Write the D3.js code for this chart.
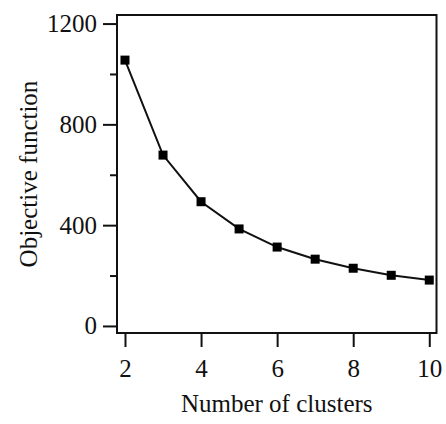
<!DOCTYPE html>
<html>
<head>
<meta charset="utf-8">
<script src="https://cdn.jsdelivr.net/npm/d3@7"></script>
<style>
  html, body { margin: 0; padding: 0; background: #fff; }
  svg { display: block; }
  text { font-family: "Liberation Serif", "Times New Roman", serif; fill: #111; }
</style>
</head>
<body>
<svg id="chart" width="446" height="424"></svg>
<script>
// Elbow curve: objective function value for each number of clusters
const clusters = [2, 3, 4, 5, 6, 7, 8, 9, 10];
const objective = [1055, 678, 493, 385, 313, 265, 229, 201, 182];
const xTicks = [2, 4, 6, 8, 10];
const yTicks = [0, 400, 800, 1200];
const yMinorTicks = [200, 600, 1000];

const W = 446, H = 424;
const margin = { top: 15, right: 9.5, bottom: 91, left: 117 };

const svg = d3.select("#chart");

const x = d3.scaleLinear().domain([1.79, 10.19]).range([margin.left, W - margin.right]);
const y = d3.scaleLinear().domain([-28, 1234]).range([H - margin.bottom, margin.top]);

const fontSize = 25;
const ink = "#111";

// Frame around the plot area
svg.append("rect")
  .attr("x", margin.left)
  .attr("y", margin.top)
  .attr("width", W - margin.right - margin.left)
  .attr("height", H - margin.bottom - margin.top)
  .attr("fill", "none")
  .attr("stroke", ink)
  .attr("stroke-width", 2);

// Bottom axis: ticks hang below the frame
const xAxis = d3.axisBottom(x).tickValues(xTicks).tickSize(14).tickPadding(12).tickFormat(d3.format("d"));
const gx = svg.append("g")
  .attr("transform", `translate(0,${H - margin.bottom})`)
  .call(xAxis);
gx.select(".domain").remove();
gx.selectAll(".tick line").attr("stroke", ink).attr("stroke-width", 2);
gx.selectAll(".tick text")
  .attr("font-size", fontSize)
  .attr("font-family", "Liberation Serif")
  .attr("fill", ink);

// Left axis: major ticks with labels, minor ticks without
const yAxis = d3.axisLeft(y).tickValues(yTicks).tickSize(14).tickPadding(6).tickFormat(d3.format("d"));
const gy = svg.append("g")
  .attr("transform", `translate(${margin.left},0)`)
  .call(yAxis);
gy.select(".domain").remove();
gy.selectAll(".tick line").attr("stroke", ink).attr("stroke-width", 2);
gy.selectAll(".tick text")
  .attr("font-size", fontSize)
  .attr("font-family", "Liberation Serif")
  .attr("fill", ink);

const gyMinor = svg.append("g")
  .attr("transform", `translate(${margin.left},0)`)
  .call(d3.axisLeft(y).tickValues(yMinorTicks).tickSize(7).tickFormat(""));
gyMinor.select(".domain").remove();
gyMinor.selectAll(".tick line").attr("stroke", ink).attr("stroke-width", 2);

// Axis titles
svg.append("text")
  .attr("x", (margin.left + W - margin.right) / 2)
  .attr("y", 412)
  .attr("text-anchor", "middle")
  .attr("font-size", fontSize)
  .text("Number of clusters");

svg.append("text")
  .attr("transform", `translate(37,${(margin.top + H - margin.bottom) / 2}) rotate(-90)`)
  .attr("text-anchor", "middle")
  .attr("font-size", fontSize)
  .text("Objective function");

// Curve and square markers
const line = d3.line()
  .x((d, i) => x(clusters[i]))
  .y(d => y(d));

svg.append("path")
  .datum(objective)
  .attr("d", line)
  .attr("fill", "none")
  .attr("stroke", ink)
  .attr("stroke-width", 2);

const s = 9;
svg.selectAll("rect.marker")
  .data(objective)
  .join("rect")
  .attr("class", "marker")
  .attr("x", (d, i) => x(clusters[i]) - s / 2)
  .attr("y", d => y(d) - s / 2)
  .attr("width", s)
  .attr("height", s)
  .attr("fill", "#000");
</script>
</body>
</html>
